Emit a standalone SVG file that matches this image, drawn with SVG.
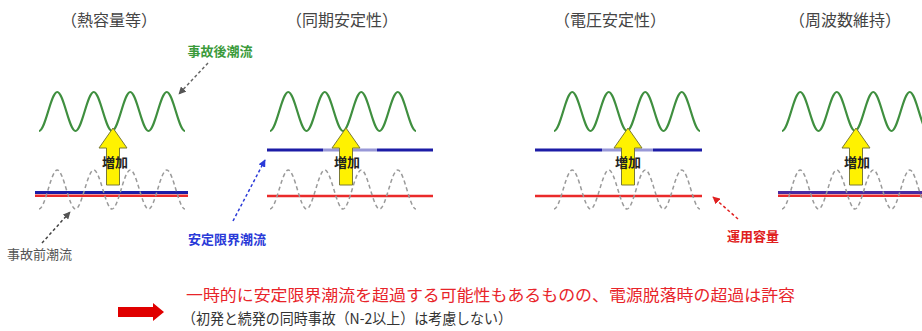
<svg xmlns="http://www.w3.org/2000/svg" width="922" height="331" viewBox="0 0 922 331">
<style>
text{font-family:"Noto Sans CJK JP","Noto Sans",sans-serif}
.title{font-size:16px;fill:#444;text-anchor:middle}
.lbl{font-size:13px;font-weight:700;text-anchor:middle}
.zo{font-size:13px;font-weight:700;fill:#222;text-anchor:middle}
.green{fill:none;stroke:#3f8f3f;stroke-width:2.2}
.gray{fill:none;stroke:#9a9a9a;stroke-width:1.5;stroke-dasharray:4 3}
.blue{stroke:#1c1ca6;stroke-width:3}
.red{stroke:#ea2a2a;stroke-width:2.5}
.purple{stroke:#4a2aa0;stroke-width:3}
.arrow{fill:#fff200;stroke:#7a7a35;stroke-width:1}
.lead{fill:none;stroke-width:1.5;stroke-dasharray:3 2.5}
</style>
<defs>
<path id="wave" d="M0,0 c6.4,0 11.85,-39 18.25,-39 s11.85,39 18.25,39 s11.85,-39 18.25,-39 s11.85,39 18.25,39 s11.85,-39 18.25,-39 s11.85,39 18.25,39 s11.85,-39 18.25,-39 s11.85,39 18.25,39"/>
<path id="up" d="M0,0 L14,20 L6.5,20 L6.5,57 L-6.5,57 L-6.5,20 L-14,20 Z"/>
<marker id="mGray" viewBox="0 0 10 10" refX="9" refY="5" markerWidth="5" markerHeight="5" orient="auto"><path d="M0,0 L10,5 L0,10 Z" fill="#555"/></marker>
<marker id="mBlue" viewBox="0 0 10 10" refX="9" refY="5" markerWidth="5" markerHeight="5" orient="auto"><path d="M0,0 L10,5 L0,10 Z" fill="#2a3ad8"/></marker>
<marker id="mRed" viewBox="0 0 10 10" refX="9" refY="5" markerWidth="5" markerHeight="5" orient="auto"><path d="M0,0 L10,5 L0,10 Z" fill="#e02020"/></marker>
</defs>

<g id="panel-thermal">
<text class="title" x="109" y="26">（熱容量等）</text>
<use href="#wave" class="green" transform="translate(39,131)"/>
<line class="blue" x1="35" y1="192.5" x2="188" y2="192.5"/>
<line class="red" x1="35" y1="195.8" x2="188" y2="195.8"/>
<use href="#wave" class="gray" transform="translate(39,209)"/>
<use href="#up" class="arrow" transform="translate(113,128)"/>
<text class="zo" x="115" y="167">増加</text>
</g>

<g id="panel-sync">
<text class="title" x="342" y="26">（同期安定性）</text>
<use href="#wave" class="green" transform="translate(270,131)"/>
<line class="blue" x1="267" y1="150" x2="433" y2="150"/>
<rect x="323" y="146" width="54" height="8" fill="#fff" opacity="0.55"/>
<line class="red" x1="267" y1="196" x2="433" y2="196"/>
<use href="#wave" class="gray" transform="translate(270,209)"/>
<use href="#up" class="arrow" transform="translate(346,128)"/>
<text class="zo" x="347" y="167">増加</text>
</g>

<g id="panel-voltage">
<text class="title" x="610" y="26">（電圧安定性）</text>
<use href="#wave" class="green" transform="translate(554,131)"/>
<line class="blue" x1="535" y1="150" x2="702" y2="150"/>
<rect x="602" y="146" width="51" height="8" fill="#fff" opacity="0.55"/>
<line class="red" x1="535" y1="196" x2="702" y2="196"/>
<use href="#wave" class="gray" transform="translate(554,209)"/>
<use href="#up" class="arrow" transform="translate(628,128)"/>
<text class="zo" x="628" y="167">増加</text>
</g>

<g id="panel-frequency">
<text class="title" x="845" y="26">（周波数維持）</text>
<use href="#wave" class="green" transform="translate(782,131)"/>
<line class="purple" x1="778" y1="192.5" x2="922" y2="192.5"/>
<line class="red" x1="778" y1="195.8" x2="922" y2="195.8"/>
<use href="#wave" class="gray" transform="translate(782,209)"/>
<use href="#up" class="arrow" transform="translate(856,128)"/>
<text class="zo" x="857" y="167">増加</text>
</g>

<g id="label-after">
<text class="lbl" x="220" y="56" fill="#3a9a3a">事故後潮流</text>
</g>
<g id="label-before">
<text x="7" y="259" font-size="13" fill="#555">事故前潮流</text>
</g>
<g id="label-limit">
<text class="lbl" x="227" y="244" fill="#2a3ad8">安定限界潮流</text>
</g>
<g id="label-capacity">
<text class="lbl" x="753" y="241" fill="#e02020">運用容量</text>
</g>

<g id="connectors">
<line class="lead" x1="208" y1="63" x2="179" y2="94" stroke="#666" marker-end="url(#mGray)"/>
<line class="lead" x1="42" y1="243" x2="70" y2="212" stroke="#444" marker-end="url(#mGray)"/>
<line class="lead" x1="233" y1="221" x2="265" y2="160" stroke="#2a3ad8" marker-end="url(#mBlue)"/>
<line class="lead" x1="738" y1="219" x2="713" y2="197" stroke="#e02020" marker-end="url(#mRed)"/>
</g>

<g id="conclusion">
<polygon points="118,307 153,307 153,303 164,312 153,321 153,317 118,317" fill="#e00000"/>
<text x="186" y="301" font-size="16" fill="#e8242a" textLength="609" lengthAdjust="spacingAndGlyphs">一時的に安定限界潮流を超過する可能性もあるものの、電源脱落時の超過は許容</text>
<text x="182" y="324" font-size="15" fill="#333" textLength="330" lengthAdjust="spacingAndGlyphs">（初発と続発の同時事故（N-2以上）は考慮しない）</text>
</g>
</svg>
